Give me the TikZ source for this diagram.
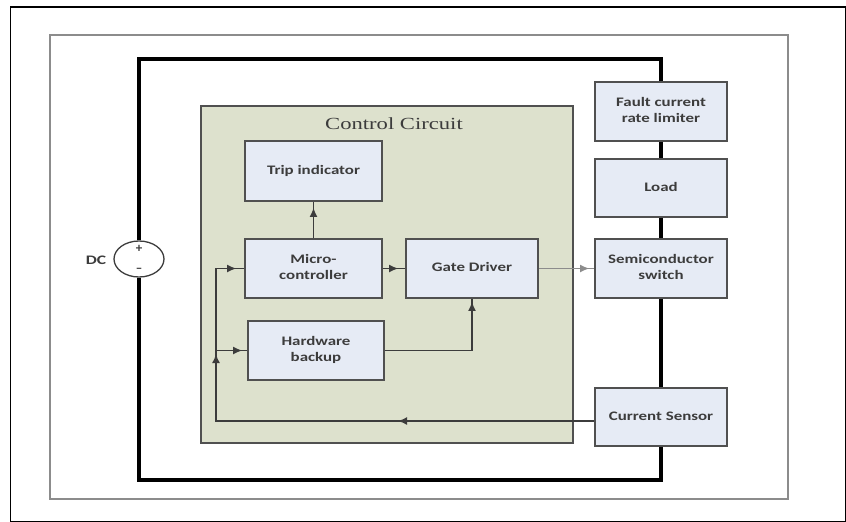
\documentclass[tikz,border=0pt]{standalone}
\usepackage{fontspec}
\setmainfont{Carlito}
\newfontfamily\ccserif{Liberation Serif}
\usetikzlibrary{arrows.meta,decorations.markings,shapes.geometric}
\definecolor{boxfill}{RGB}{230,235,245}
\definecolor{ccfill}{RGB}{221,225,205}
\definecolor{edgec}{RGB}{80,80,80}
\definecolor{sigc}{RGB}{60,60,60}
\definecolor{txtc}{RGB}{60,60,60}
\definecolor{framec}{RGB}{140,140,140}
\newcommand\stx[1]{\scalebox{1.3}[1]{\begin{tabular}{@{}c@{}}#1\end{tabular}}}
\begin{document}
\begin{tikzpicture}[x=1pt,y=-1pt,
 blk/.style={draw=edgec,line width=1.8pt,fill=boxfill,minimum width=132pt,minimum height=59pt,inner sep=0pt,text=txtc,font=\fontsize{13}{16}\selectfont\bfseries},
 pwr/.style={line width=3.8pt,black,line join=miter},
 sig/.style={draw=sigc,line width=1.3pt},
 tipat/.style={postaction={decorate,decoration={markings,mark=at position #1 with {\arrow{Latex[length=9pt,width=8pt]}}}}}
]
\useasboundingbox (0,0) rectangle (846,522);
% outer border and grey frame
\draw[black,line width=1.2pt] (10.5,7) rectangle (845.5,521.5);
\draw[framec,line width=2.5pt] (50,35) rectangle (788,499);
% control circuit
\node[draw=edgec,line width=1.8pt,fill=ccfill,minimum width=372pt,minimum height=337pt,inner sep=0pt] (cc) at (387,274.5) {};
\node[font=\ccserif\fontsize{17}{17}\selectfont,text=txtc] (cct) at (394,124) {\scalebox{1.33}[1]{Control Circuit}};
% blocks
\node[blk,minimum width=137pt,minimum height=60pt] (tr) at (313.5,171) {\stx{Trip indicator}};
\node[blk,minimum width=137pt] (mc) at (313.5,268.5) {\stx{Micro-\\controller}};
\node[blk] (gd) at (472,268.5) {\stx{Gate Driver}};
\node[blk,minimum width=136pt] (hb) at (316,350.5) {\stx{Hardware\\backup}};
\node[blk] (fault) at (661,111.5) {\stx{Fault current\\rate limiter}};
\node[blk,minimum height=58pt] (load) at (661,188) {\stx{Load}};
\node[blk] (sw) at (661,268.5) {\stx{Semiconductor\\switch}};
\node[blk,minimum height=58pt] (cs) at (661,417) {\stx{Current Sensor}};
% DC source
\node[ellipse,draw=sigc,line width=1.3pt,minimum width=50pt,minimum height=36pt,inner sep=0pt,fill=white] (dc) at (139,259) {};
\node[font=\fontsize{13}{13}\selectfont\bfseries,text=txtc,inner sep=0pt] (plus) at (139,249) {+};
\node[font=\fontsize{13}{13}\selectfont\bfseries,text=txtc,inner sep=0pt] (minus) at (139,270) {–};
\node[font=\fontsize{13}{13}\selectfont\bfseries,text=txtc] (dclbl) at (96,260) {\scalebox{1.35}[1]{DC}};
% power loop
\coordinate (tl) at (139,59);
\coordinate (trc) at (661,59);
\coordinate (bl) at (139,480);
\coordinate (brc) at (661,480);
\draw[pwr] (dc.north) -- (tl) -- (trc) -- (fault.north);
\draw[pwr] (fault.south) -- (load.north);
\draw[pwr] (load.south) -- (sw.north);
\draw[pwr] (sw.south) -- (cs.north);
\draw[pwr] (cs.south) -- (brc) -- (bl) -- (dc.south);
% signals
\draw[sig,tipat=-6pt] (mc.north) -- (tr.south);
\draw[sig,tipat=-7pt] (mc.east) -- (gd.west);
\draw[sig,draw=framec,tipat=-5pt] (gd.east) -- (sw.west);
\coordinate (fb) at (216,421);
\draw[sig,tipat=196pt,tipat=445pt,tipat=-8pt] (cs.west |- fb) -- (fb) -- (fb |- mc.west) -- (mc.west);
\coordinate (br1) at (216,350.5);
\draw[sig,tipat=-5pt] (br1) -- (hb.west);
\draw[sig,tipat=-3pt] (hb.east) -| (gd.south);
\end{tikzpicture}
\end{document}
